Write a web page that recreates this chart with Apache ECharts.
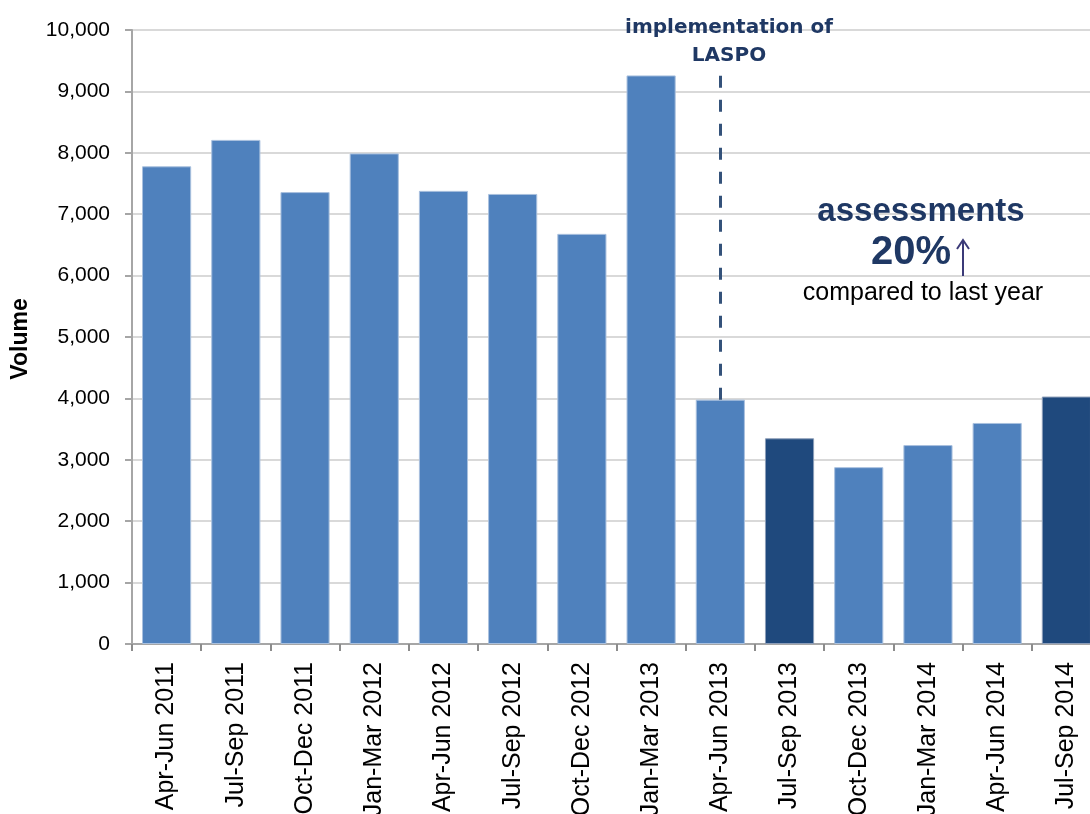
<!DOCTYPE html>
<html>
<head>
<meta charset="utf-8">
<title>Assessments volume by quarter</title>
<script src="https://cdn.jsdelivr.net/npm/echarts@6/dist/echarts.min.js"></script>
<style>
  html, body { margin: 0; padding: 0; background: #ffffff; }
  #chart { width: 1090px; height: 814px; }
</style>
</head>
<body>
<div id="chart"></div>
<script>
// Quarterly volumes
const categories = [
  'Apr-Jun 2011', 'Jul-Sep 2011', 'Oct-Dec 2011', 'Jan-Mar 2012',
  'Apr-Jun 2012', 'Jul-Sep 2012', 'Oct-Dec 2012', 'Jan-Mar 2013',
  'Apr-Jun 2013', 'Jul-Sep 2013', 'Oct-Dec 2013', 'Jan-Mar 2014',
  'Apr-Jun 2014', 'Jul-Sep 2014'
];
const volumes = [7780, 8210, 7360, 7990, 7380, 7330, 6680, 9260, 3980, 3350, 2880, 3240, 3600, 4030];
// Quarters shown in the darker shade (same quarter, year on year)
const highlighted = ['Jul-Sep 2013', 'Jul-Sep 2014'];
// Quarter in which LASPO came in, and the top of its marker line
const laspoQuarter = 'Apr-Jun 2013';
const laspoMarkerTop = 9380;
// Value axis ticks
const yMin = 0, yMax = 10000, yStep = 1000;

const FONT = "'Liberation Sans', Arial, sans-serif";
const NAVY = '#1F3864';
const ARROW = '#3B3A78';

const chart = echarts.init(document.getElementById('chart'), null, { renderer: 'canvas' });

const barData = categories.map((c, i) => {
  const dark = highlighted.indexOf(c) >= 0;
  return {
    value: volumes[i],
    itemStyle: {
      color: dark ? '#1F497D' : '#4F81BD',
      borderColor: dark ? '#8C9DB8' : '#A9C0DE',
      borderWidth: 1
    }
  };
});

const laspoIdx = categories.indexOf(laspoQuarter);

chart.setOption({
  animation: false,
  backgroundColor: '#ffffff',
  grid: {
    left: 132, top: 30, width: 969, height: 614,
    containLabel: false,
    outerBoundsMode: 'none'
  },
  xAxis: {
    type: 'category',
    data: categories,
    boundaryGap: true,
    axisLine: { lineStyle: { color: '#A6A6A6', width: 2 } },
    axisTick: { show: true, length: 7, lineStyle: { color: '#8C8C8C', width: 2 } },
    axisLabel: {
      rotate: 90,
      interval: 0,
      margin: 18,
      color: '#000000',
      fontFamily: FONT,
      fontSize: 25
    },
    splitLine: { show: false }
  },
  yAxis: {
    type: 'value',
    min: yMin,
    max: yMax,
    interval: yStep,
    axisLine: { show: true, lineStyle: { color: '#A6A6A6', width: 2 } },
    axisTick: { show: true, length: 7, lineStyle: { color: '#A6A6A6', width: 2 } },
    axisLabel: {
      margin: 22,
      color: '#000000',
      fontFamily: FONT,
      fontSize: 21,
      formatter: v => v.toLocaleString('en-GB')
    },
    splitLine: { show: true, lineStyle: { color: '#D9D9D9', width: 2 } }
  },
  series: [{
    type: 'bar',
    data: barData,
    barCategoryGap: '29%',
    z: 2,
    markLine: {
      silent: true,
      symbol: 'none',
      label: { show: false },
      lineStyle: { color: '#34527A', width: 3, type: [12, 12] },
      data: [[
        { coord: [laspoIdx, volumes[laspoIdx]] },
        { coord: [laspoIdx, laspoMarkerTop] }
      ]]
    }
  }],
  graphic: [
    {
      type: 'text', x: 21, y: 339, rotation: Math.PI / 2,
      style: {
        text: 'Volume', fill: '#000000',
        font: "bold 23px 'Liberation Sans', Arial, sans-serif",
        align: 'center', verticalAlign: 'middle',
        textAlign: 'center', textVerticalAlign: 'middle'
      }
    },
    {
      type: 'text', x: 729, y: 42, z: 10,
      style: {
        text: 'implementation of\nLASPO', fill: NAVY,
        font: "bold 20px 'DejaVu Sans', Verdana, sans-serif",
        lineHeight: 28,
        align: 'center', verticalAlign: 'middle',
        textAlign: 'center', textVerticalAlign: 'middle'
      }
    },
    {
      type: 'text', x: 921, y: 212, z: 10,
      style: {
        text: 'assessments', fill: NAVY,
        font: "bold 33px 'Liberation Sans', Arial, sans-serif",
        align: 'center', verticalAlign: 'middle',
        textAlign: 'center', textVerticalAlign: 'middle'
      }
    },
    {
      type: 'text', x: 911, y: 253, z: 10,
      style: {
        text: '20%', fill: NAVY,
        font: "bold 40px 'Liberation Sans', Arial, sans-serif",
        align: 'center', verticalAlign: 'middle',
        textAlign: 'center', textVerticalAlign: 'middle'
      }
    },
    // upward arrow beside the percentage
    {
      type: 'line', z: 10,
      shape: { x1: 963, y1: 276, x2: 963, y2: 241 },
      style: { stroke: ARROW, lineWidth: 2 }
    },
    {
      type: 'polyline', z: 10,
      shape: { points: [[957, 249], [963, 240], [969, 249]] },
      style: { stroke: ARROW, lineWidth: 2, fill: null }
    },
    {
      type: 'text', x: 923, y: 293, z: 10,
      style: {
        text: 'compared to last year', fill: '#000000',
        font: "25px 'Liberation Sans', Arial, sans-serif",
        align: 'center', verticalAlign: 'middle',
        textAlign: 'center', textVerticalAlign: 'middle'
      }
    }
  ]
});
</script>
</body>
</html>
